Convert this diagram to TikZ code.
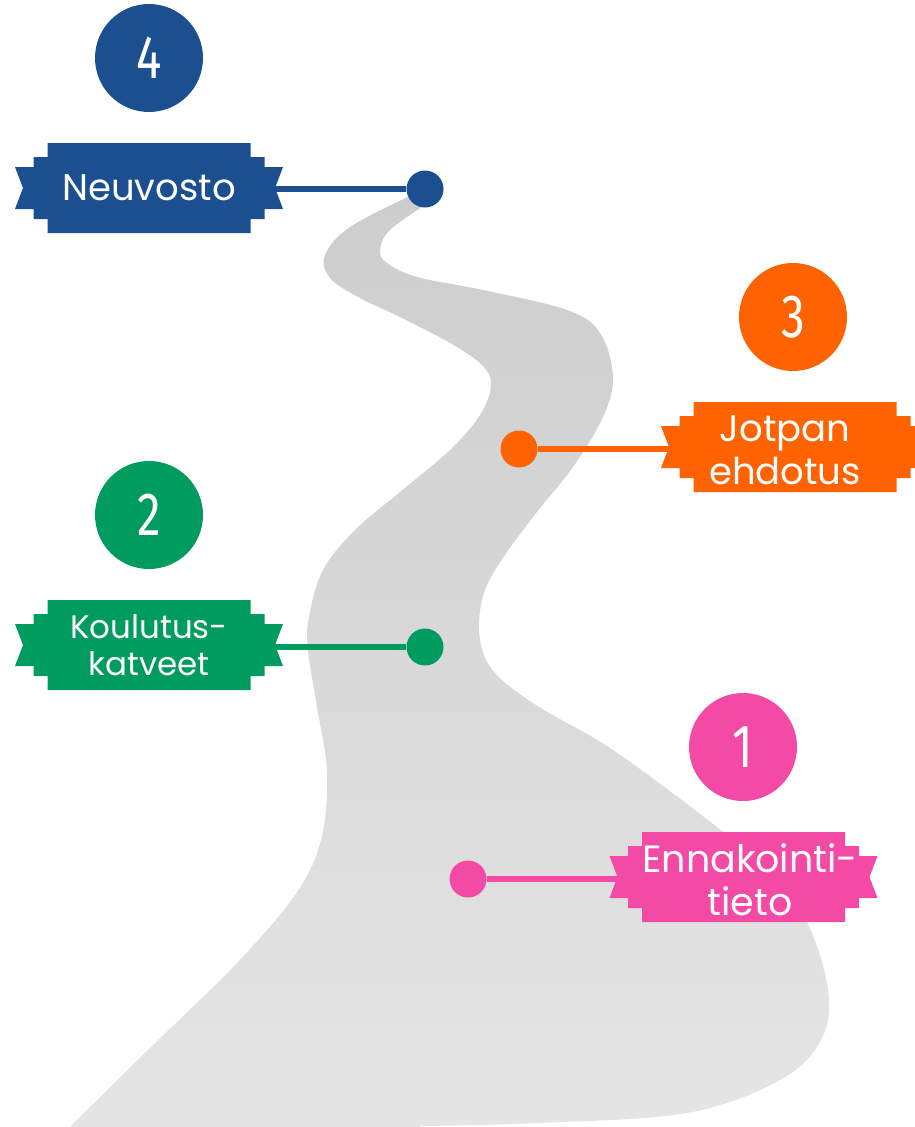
\documentclass[tikz,border=0pt]{standalone}
\usepackage{fontspec}
\setmainfont{Poppins}
\newfontfamily\numfont[FakeStretch=0.78]{Fira Sans}
\usetikzlibrary{calc}
\definecolor{cblue}{RGB}{28,79,143}
\definecolor{corange}{RGB}{255,98,0}
\definecolor{cgreen}{RGB}{0,155,95}
\definecolor{cpink}{RGB}{243,74,166}
\definecolor{roadtop}{RGB}{205,205,205}
\definecolor{roadbot}{RGB}{230,230,230}
\newcommand\myribbon[4]{%
  \begin{scope}[shift={(#1,#2)}]
    \fill[#3] (-101.5,-45) -- (101.5,-45) -- (101.5,-31) -- (115.5,-31) -- (115.5,-21) -- (134,-21) -- (126,0) -- (134,21) -- (115.5,21) -- (115.5,31) -- (101.5,31) -- (101.5,45) -- (-101.5,45) -- (-101.5,31) -- (-115.5,31) -- (-115.5,21) -- (-134,21) -- (-126,0) -- (-134,-21) -- (-115.5,-21) -- (-115.5,-31) -- (-101.5,-31) -- cycle;
    \coordinate (#4L) at (-126,0);
    \coordinate (#4R) at (126,0);
  \end{scope}}
\tikzset{
  roaddot/.style={circle, fill=#1, minimum size=37pt, inner sep=0pt},
  numcirc/.style={circle, fill=#1, minimum size=108pt, inner sep=0pt, text=white, font=\numfont\fontsize{61}{61}\selectfont},
  lbl/.style={text=white, align=center, inner sep=0pt, font=\fontsize{37}{43}\selectfont},
  conn/.style={#1, line width=6.5pt}
}
\begin{document}
\begin{tikzpicture}[x=1pt,y=-1pt]
\useasboundingbox (0,0) rectangle (915,1127);
\clip (0,0) rectangle (915,1127);
% road
\shade[top color=roadtop, bottom color=roadbot]
  plot[smooth, tension=0.6] coordinates {(410,196) (350,227) (325,255) (330,278) (360,298) (400,317) (450,343) (482,365) (491,385) (480,415) (450,450) (400,492) (355,530) (323,570) (309,617) (308,650) (317,707) (327,773) (321,840) (295,895) (235,965) (150,1048) (70,1127) (40,1160)}
  -- (400,1160) --
  plot[smooth, tension=0.6] coordinates {(420,1126) (539,1123) (687,1113) (780,1080) (821,1040) (828,990) (806,920) (765,868) (717,827) (613,750) (539,707) (495,673) (480,640) (482,600) (497,567) (533,517) (573,467) (603,417) (613,377) (600,333) (567,310) (483,290) (417,277) (387,263) (380,250) (390,230) (428,203)}
  -- cycle;
% ribbons
\myribbon{149}{188}{cblue}{r4}
\myribbon{795}{447}{corange}{r3}
\myribbon{149}{645}{cgreen}{r2}
\myribbon{743.5}{877}{cpink}{r1}
% dots
\node[roaddot=cblue] (d4) at (425,189) {};
\node[roaddot=corange] (d3) at (519,449) {};
\node[roaddot=cgreen] (d2) at (425,647) {};
\node[roaddot=cpink] (d1) at (468,879) {};
% connectors
\draw[conn=cblue] (r4R |- d4) -- (d4);
\draw[conn=corange] (r3L |- d3) -- (d3);
\draw[conn=cgreen] (r2R |- d2) -- (d2);
\draw[conn=cpink] (r1L |- d1) -- (d1);
% labels
\node[lbl] (t4) at (149,188) {Neuvosto};
\node[lbl] (t3) at (785,450) {Jotpan\\ehdotus};
\node[lbl, font=\fontsize{32.5}{37}\selectfont] (t2) at (149,645) {Koulutus-\\katveet};
\node[lbl, font=\fontsize{38}{43}\selectfont] (t1) at (750,880) {Ennakointi-\\tieto};
% numbers
\node[numcirc=cblue] (n4) at (149,58) {4};
\node[numcirc=corange] (n3) at (793,317) {3};
\node[numcirc=cgreen] (n2) at (149,515) {2};
\node[numcirc=cpink] (n1) at (743,747) {1};
\end{tikzpicture}
\end{document}
